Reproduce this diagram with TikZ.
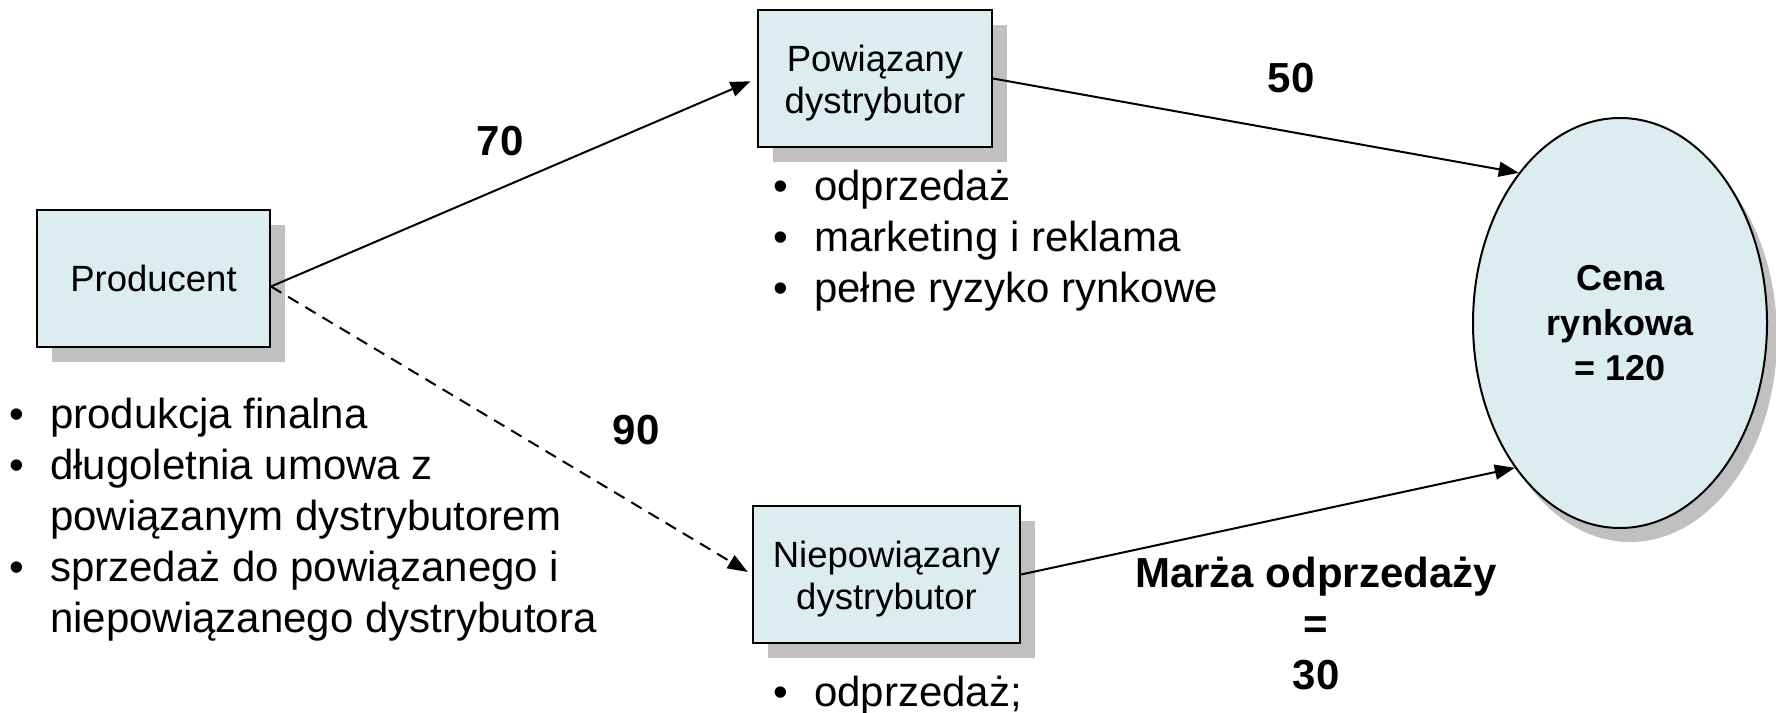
\documentclass[tikz,border=0pt]{standalone}
\usepackage{fontspec}
\setmainfont{Liberation Sans}
\usetikzlibrary{shapes.geometric,shadows,arrows.meta}
\definecolor{boxfill}{RGB}{219,237,239}
\definecolor{shadowgray}{RGB}{192,192,192}
\tikzset{
  box/.style={draw=black, line width=2pt, fill=boxfill, minimum height=137pt,
    align=center, inner sep=0pt, font=\fontsize{36.5}{42}\selectfont,
    drop shadow={shadow xshift=15pt, shadow yshift=-15pt, fill=shadowgray, opacity=1}},
  oval/.style={ellipse, draw=black, line width=2pt, fill=boxfill, minimum width=294pt,
    minimum height=410pt, inner sep=0pt, align=center,
    font=\fontsize{36}{45}\selectfont\bfseries,
    drop shadow={shadow xshift=10pt, shadow yshift=-14pt, fill=shadowgray, opacity=1}},
  num/.style={font=\fontsize{42}{51}\selectfont\bfseries, inner sep=0pt, align=center},
  blist/.style={font=\fontsize{42}{51}\selectfont, inner sep=0pt, align=left, anchor=base west},
  clist/.style={font=\fontsize{42}{51}\selectfont, inner sep=0pt, align=left, anchor=base west},
  conn/.style={line width=2pt, -{Triangle[length=20pt,width=15pt]}},
  dconn/.style={conn, dash pattern=on 12pt off 8pt},
}
\newcommand{\bul}[1]{\makebox[#1][l]{•}}
\newcommand{\lift}{\rule{0pt}{36pt}}
\begin{document}
\begin{tikzpicture}[x=1pt,y=-1pt]
\useasboundingbox (0,0) rectangle (1776,712);

\node[box, minimum width=233pt] (prod) at (153.5,278.5) {Producent};
\node[box, minimum width=234pt] (pow) at (875,78.5) {\lift Powiązany\\dystrybutor};
\node[box, minimum width=267pt] (niep) at (886.5,574.5) {\lift Niepowiązany\\dystrybutor};
\node[oval] (ell) at (1620,323) {Cena\\rynkowa\\= 120};

\node[num] (l70) at (500,141) {70};
\node[num] (l50) at (1291,78) {50};
\node[num] (l90) at (636,430) {90};
\node[num, anchor=base] (marza) at (1316,689) {Marża odprzedaży\\=\\30};

\node[clist] (plist) at (9,632) {\bul{41pt}produkcja finalna\\\bul{41pt}długoletnia umowa z\\\hspace*{41pt}powiązanym dystrybutorem\\\bul{41pt}sprzedaż do powiązanego i\\\hspace*{41pt}niepowiązanego dystrybutora};
\node[blist] (powlist) at (773,302) {\bul{41pt}odprzedaż\\\bul{41pt}marketing i reklama\\\bul{41pt}pełne ryzyko rynkowe};
\node[blist] (nlist) at (773,706) {\bul{41pt}odprzedaż;};

\draw[conn, shorten >=7pt] ([yshift=-8pt]prod.east) -- (pow.west);
\draw[dconn, shorten >=5pt] ([yshift=-8pt]prod.east) -- (niep.west);
\draw[conn] (pow.east) -- (ell.124.5);
\draw[conn] (niep.east) -- (ell.234);
\end{tikzpicture}
\end{document}
